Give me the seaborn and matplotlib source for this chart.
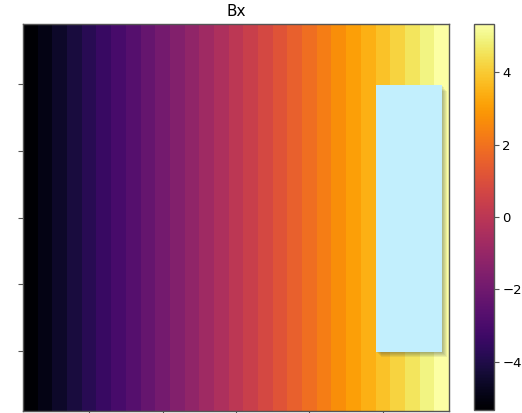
"""Bx field map: inferno heatmap with a shaded block overlay."""

import matplotlib
matplotlib.use("Agg")
import matplotlib.pyplot as plt
import matplotlib.patheffects as pe
from matplotlib.patches import Rectangle
import numpy as np
import seaborn as sns

# Bx value per column (constant along each column)
bx_columns = [-5.33, -4.95, -4.57, -4.19, -3.81, -3.43, -3.05, -2.67, -2.29,
              -1.90, -1.52, -1.14, -0.76, -0.38, 0.00, 0.38, 0.76, 1.14,
              1.52, 1.90, 2.29, 2.67, 3.05, 3.43, 3.81, 4.19, 4.57, 4.95, 5.33]
n_rows = 29
tick_pos = [4.5, 9.5, 14.5, 19.5, 24.5]
cbar_ticks = [-4, -2, 0, 2, 4]

grid = np.tile(np.array(bx_columns), (n_rows, 1))

fig = plt.figure(figsize=(5.22, 4.13), dpi=100)
ax = fig.add_axes([23 / 522, 2 / 413, 426 / 522, 387 / 413])
cax = fig.add_axes([474 / 522, 3 / 413, 20 / 522, 386 / 413])

sns.heatmap(grid, cmap="inferno", ax=ax, cbar_ax=cax,
            xticklabels=False, yticklabels=False)

ax.set_xticks(tick_pos)
ax.set_yticks(tick_pos)
ax.set_xticklabels([])
ax.set_yticklabels([])
ax.tick_params(length=3.5, width=0.8, color="#555555")
for s in ax.spines.values():
    s.set_visible(True)
    s.set_color("#555555")
    s.set_linewidth(1.0)
ax.set_title("Bx", fontsize=11)

# overlay block with a soft shadow (stacked faint offsets fake a blur)
block = Rectangle((24.0, 4.6), 4.5, 20.0, facecolor="#c2effd",
                  edgecolor="none", zorder=5)
shadows = [pe.SimplePatchShadow(offset=(o, -o), alpha=0.09)
           for o in (0.75, 1.5, 2.25, 3.0, 3.75)]
block.set_path_effects(shadows + [pe.Normal()])
ax.add_patch(block)

cbar = ax.collections[0].colorbar
cbar.set_ticks(cbar_ticks)
cbar.outline.set_visible(True)
cbar.outline.set_edgecolor("#555555")
cbar.outline.set_linewidth(1.0)
cax.tick_params(labelsize=9.5, length=3.5, pad=2.5, color="#555555")

fig.savefig("out.png", dpi=100)
